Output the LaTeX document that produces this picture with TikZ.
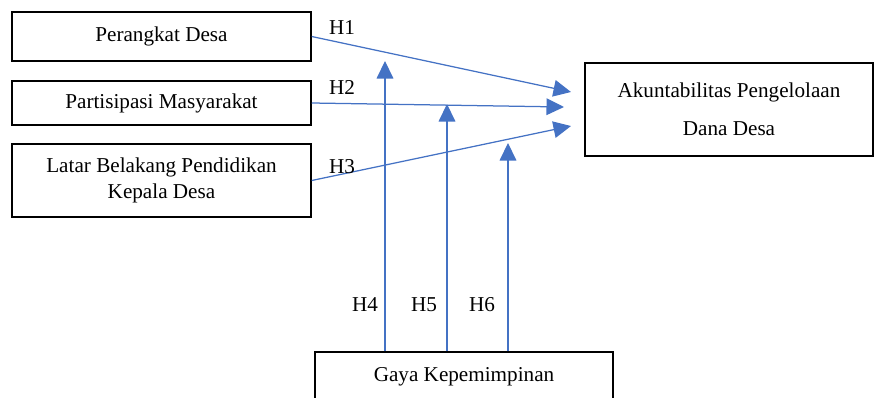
\documentclass[tikz,border=0pt]{standalone}
\usepackage{fontspec}
\setmainfont{Liberation Serif}
\usetikzlibrary{arrows.meta}
\definecolor{hypblue}{RGB}{68,114,196}
\tikzset{>={Triangle[length=10.5pt, width=10pt]}}
\tikzset{var/.style={draw, line width=0.9pt, minimum width=179.4pt, inner sep=2pt},
         hyp/.style={draw=hypblue, fill=none, line width=0.75pt, ->, hypblue}}

\begin{document}
\begin{tikzpicture}[x=0.6pt, y=-0.6pt, font=\fontsize{12.7}{15.2}\selectfont]
    \useasboundingbox (0,0) rectangle (874,398);
    % variables
    \node [var, minimum height=29.4pt] (perangkat) at (161.5,36.5) {Perangkat Desa};
    \node [var, minimum height=26.4pt] (partisipasi) at (161.5,103) {Partisipasi Masyarakat};
    \node [var, minimum height=43.8pt, align=center] (latar) at (161.5,180.5) {Latar Belakang Pendidikan\\Kepala Desa};
    \node [var, minimum width=172.8pt, minimum height=55.8pt, align=center] (akun) at (729,109.5) {Akuntabilitas Pengelolaan\\[7.6pt]Dana Desa};
    \node [var, minimum width=178.8pt, minimum height=30pt] (gaya) at (464,377) {Gaya Kepemimpinan};
    % arrow tips
    \coordinate (t1) at (571,92);
    \coordinate (t2) at (564,107);
    \coordinate (t3) at (571,126);
    \coordinate (t4) at (385,61);
    \coordinate (t5) at (447,104);
    \coordinate (t6) at (508,143);
    \draw [hyp] (perangkat.east) -- (t1);
    \draw [hyp] (partisipasi.east) -- (t2);
    \draw [hyp] (latar.east) -- (t3);
    \draw [hyp] (gaya.north -| t4) -- (t4);
    \draw [hyp] (gaya.north -| t5) -- (t5);
    \draw [hyp] (gaya.north -| t6) -- (t6);
    % labels
    \node (h1) at (342,28) {H1};
    \node (h2) at (342,87) {H2};
    \node (h3) at (342,167) {H3};
    \node (h4) at (365,305) {H4};
    \node (h5) at (424,305) {H5};
    \node (h6) at (482,305) {H6};
\end{tikzpicture}
\end{document}
